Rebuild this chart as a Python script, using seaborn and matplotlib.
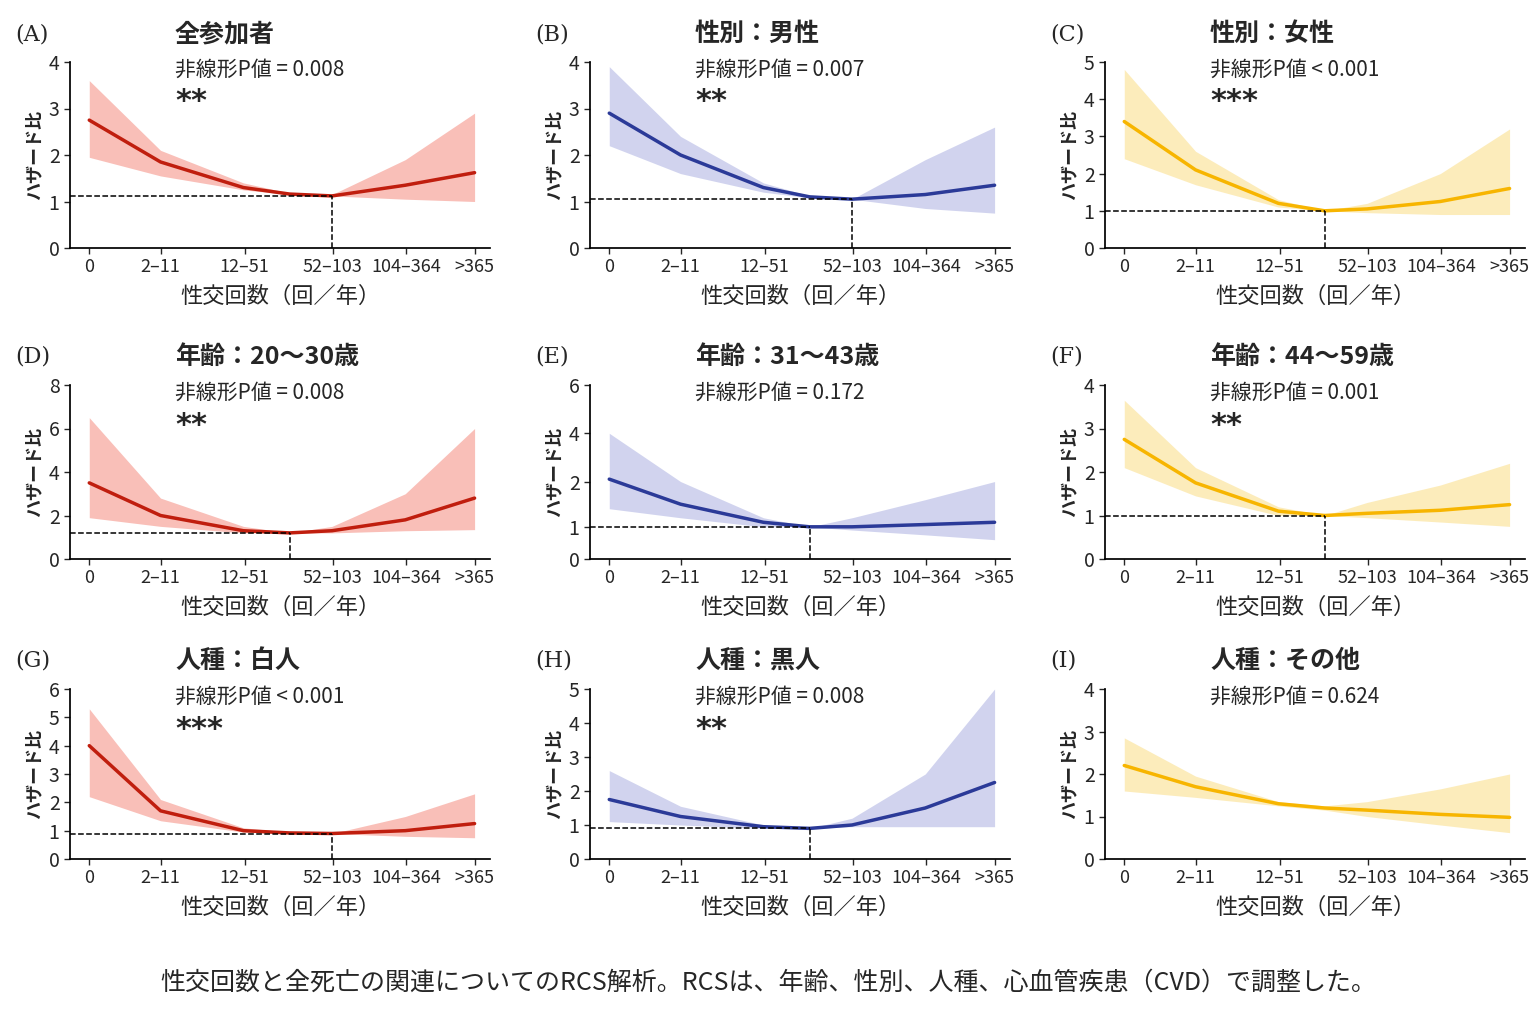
import numpy as np
import matplotlib
matplotlib.use("Agg")
import matplotlib.pyplot as plt
import seaborn as sns
import pandas as pd

sns.set_theme(style="ticks")
plt.rcParams['font.family'] = ['Noto Sans CJK JP', 'DejaVu Sans']

x_pos = [0, 1.85, 4.0, 5.2, 6.3, 8.2, 10.0]
tick_pos = [0, 1.85, 4.03, 6.32, 8.22, 10.0]
tick_labels = ["0", "2–11", "12–51", "52–103", "104–364", ">365"]

letters = ["(A)", "(B)", "(C)", "(D)", "(E)", "(F)", "(G)", "(H)", "(I)"]
titles = ["全参加者", "性別：男性", "性別：女性", "年齢：20〜30歳", "年齢：31〜43歳",
          "年齢：44〜59歳", "人種：白人", "人種：黒人", "人種：その他"]
pvals = ["非線形P値 = 0.008", "非線形P値 = 0.007", "非線形P値 < 0.001",
         "非線形P値 = 0.008", "非線形P値 = 0.172", "非線形P値 = 0.001",
         "非線形P値 < 0.001", "非線形P値 = 0.008", "非線形P値 = 0.624"]
stars = ["**", "**", "***", "**", "", "**", "***", "**", ""]

hr_A = [2.75, 1.85, 1.3, 1.16, 1.12, 1.35, 1.62]
lo_A = [1.95, 1.55, 1.25, 1.15, 1.12, 1.05, 1.0]
hi_A = [3.6, 2.1, 1.4, 1.18, 1.15, 1.9, 2.9]
hr_B = [2.9, 2.0, 1.3, 1.1, 1.05, 1.15, 1.35]
lo_B = [2.2, 1.6, 1.2, 1.08, 1.05, 0.85, 0.75]
hi_B = [3.9, 2.4, 1.4, 1.12, 1.05, 1.9, 2.6]
hr_C = [3.4, 2.1, 1.2, 1.0, 1.05, 1.25, 1.6]
lo_C = [2.4, 1.7, 1.1, 1.0, 0.95, 0.9, 0.9]
hi_C = [4.8, 2.6, 1.3, 1.0, 1.2, 2.0, 3.2]
hr_D = [3.5, 2.0, 1.3, 1.2, 1.3, 1.8, 2.8]
lo_D = [1.9, 1.5, 1.2, 1.2, 1.2, 1.3, 1.35]
hi_D = [6.5, 2.8, 1.5, 1.2, 1.5, 3.0, 6.0]
hr_E = [2.1, 1.5, 1.1, 1.0, 1.0, 1.05, 1.1]
lo_E = [1.4, 1.2, 1.0, 1.0, 0.9, 0.75, 0.6]
hi_E = [4.0, 2.0, 1.2, 1.0, 1.2, 1.6, 2.0]
hr_F = [2.75, 1.75, 1.1, 1.0, 1.05, 1.12, 1.25]
lo_F = [2.1, 1.45, 1.0, 1.0, 0.95, 0.85, 0.75]
hi_F = [3.65, 2.1, 1.2, 1.0, 1.3, 1.7, 2.2]
hr_G = [4.0, 1.7, 1.0, 0.92, 0.9, 1.0, 1.25]
lo_G = [2.2, 1.35, 0.95, 0.9, 0.9, 0.8, 0.75]
hi_G = [5.3, 2.1, 1.1, 0.95, 0.9, 1.5, 2.3]
hr_H = [1.75, 1.25, 0.95, 0.9, 1.0, 1.5, 2.25]
lo_H = [1.1, 1.0, 0.9, 0.9, 0.95, 0.95, 0.95]
hi_H = [2.6, 1.55, 1.0, 0.9, 1.2, 2.5, 5.0]
hr_I = [2.2, 1.7, 1.3, 1.2, 1.15, 1.05, 0.98]
lo_I = [1.6, 1.45, 1.25, 1.15, 1.0, 0.8, 0.62]
hi_I = [2.85, 1.95, 1.35, 1.25, 1.35, 1.65, 2.0]

hrs = [hr_A, hr_B, hr_C, hr_D, hr_E, hr_F, hr_G, hr_H, hr_I]
los = [lo_A, lo_B, lo_C, lo_D, lo_E, lo_F, lo_G, lo_H, lo_I]
his = [hi_A, hi_B, hi_C, hi_D, hi_E, hi_F, hi_G, hi_H, hi_I]
ref_idx = [4, 4, 3, 3, 3, 3, 4, 3, None]
yticks = [[0, 1, 2, 3, 4], [0, 1, 2, 3, 4], [0, 1, 2, 3, 4, 5],
          [0, 2, 4, 6, 8], [0, 1, 2, 4, 6], [0, 1, 2, 3, 4],
          [0, 1, 2, 3, 4, 5, 6], [0, 1, 2, 3, 4, 5], [0, 1, 2, 3, 4]]

colors = ["#C01E0E", "#2B3A98", "#F7B500"]
fills = ["#F8B4AC", "#C9CCEC", "#FCE9B0"]

W, H = 1536, 1024
fig = plt.figure(figsize=(15.36, 10.24), dpi=100)
col_left = [70, 590, 1105]
row_top = [[62, 248], [385, 559], [689, 859]]
ax_w = 420

E_src = [0, 1, 2, 4, 6]
E_dst = [0, 32, 77, 125, 173]

for i in range(9):
    r, c = divmod(i, 3)
    top, bot = row_top[r]
    ax = fig.add_axes([col_left[c] / W, 1 - bot / H, ax_w / W, (bot - top) / H])
    col = colors[c]
    df = pd.DataFrame({"x": x_pos, "hr": hrs[i]})
    ax.fill_between(x_pos, los[i], his[i], color=fills[c], lw=0, alpha=0.85)
    sns.lineplot(data=df, x="x", y="hr", ax=ax, color=col, lw=2.5)
    if i == 4:
        ax.set_yscale('function', functions=(lambda y: np.interp(y, E_src, E_dst),
                                             lambda v: np.interp(v, E_dst, E_src)))
    ax.set_ylim(0, yticks[i][-1])
    ax.set_yticks(yticks[i])
    ax.set_xlim(-0.5, 10.4)
    ax.set_xticks(tick_pos)
    ax.set_xticklabels(tick_labels)
    if ref_idx[i] is not None:
        k = ref_idx[i]
        ax.plot([-0.5, x_pos[k]], [hrs[i][k]] * 2, ls="--", color="black", lw=1.1)
        ax.plot([x_pos[k]] * 2, [0, hrs[i][k]], ls="--", color="black", lw=1.1)
    sns.despine(ax=ax)
    ax.tick_params(axis="x", labelsize=13, length=4, width=1)
    ax.tick_params(axis="y", labelsize=14, length=4, width=1)
    ax.set_xlabel("性交回数（回／年）", fontsize=16, labelpad=6)
    ax.set_ylabel("ハザード比", fontsize=13, fontweight="bold")
    for s in ax.spines.values():
        s.set_color("black")
    lx = col_left[c] - 55
    tx = col_left[c] + 105
    ty = top - 28
    fig.text(lx / W, 1 - ty / H, letters[i], fontsize=16, family=["DejaVu Serif"], va="center")
    fig.text(tx / W, 1 - ty / H, titles[i], fontsize=18, fontweight="bold", va="center")
    fig.text(tx / W, 1 - (ty + 36) / H, pvals[i], fontsize=15, va="center")
    if stars[i]:
        fig.text(tx / W, 1 - (ty + 68) / H, "".join(stars[i]), fontsize=22, va="center",
                 family=["DejaVu Sans"], fontweight="bold")

fig.text(0.5, 1 - 983 / H, "性交回数と全死亡の関連についてのRCS解析。RCSは、年齢、性別、人種、心血管疾患（CVD）で調整した。",
         ha="center", va="center", fontsize=18)
fig.savefig("out.png", dpi=100, facecolor="white")
